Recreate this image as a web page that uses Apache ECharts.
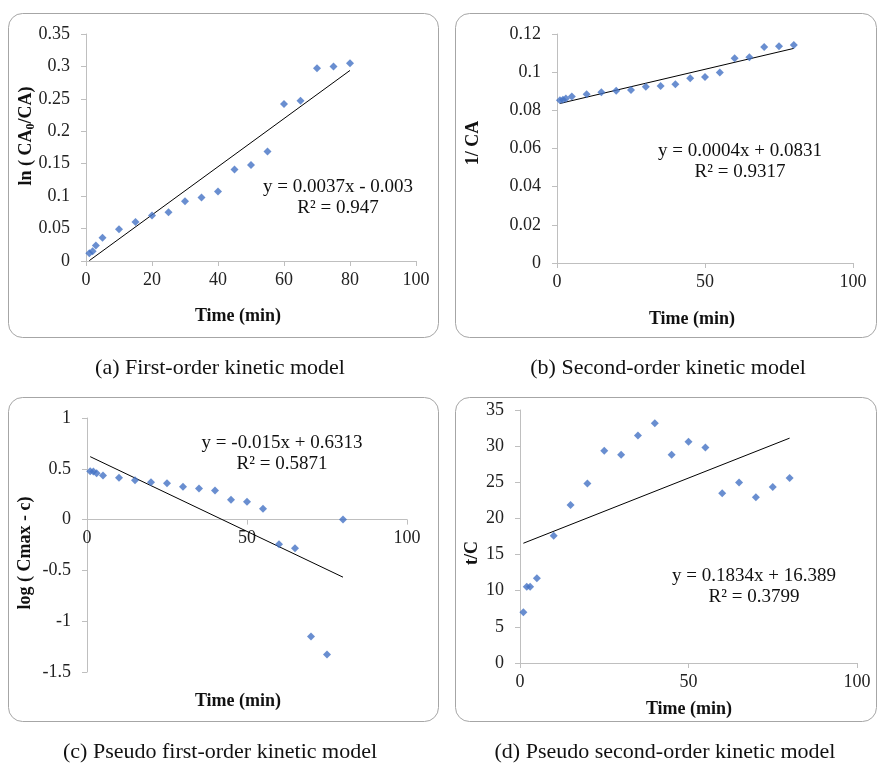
<!DOCTYPE html>
<html>
<head>
<meta charset="utf-8">
<script src="https://cdn.jsdelivr.net/npm/echarts@6/dist/echarts.min.js"></script>
<style>
  html, body { margin: 0; padding: 0; background: #fff; }
  #chart { width: 877px; height: 765px; }
</style>
</head>
<body>
<div id="chart"></div>
<script>
// sampling times (min), shared by all four panels
const time = [1, 2, 3, 5, 10, 15, 20, 25, 30, 35, 40, 45, 50, 55, 60, 65, 70, 75, 80]

// (a) ln(CA0/CA)
const lnRatio = [0.012, 0.015, 0.024, 0.036, 0.049, 0.060, 0.070, 0.075, 0.092, 0.098, 0.107, 0.141, 0.148, 0.169, 0.242, 0.247, 0.297, 0.300, 0.305]
// (b) 1/CA
const invCA = [0.0853, 0.0855, 0.0862, 0.0872, 0.0884, 0.0895, 0.0903, 0.0907, 0.0923, 0.0928, 0.0937, 0.0968, 0.0975, 0.0998, 0.1073, 0.1078, 0.1132, 0.1136, 0.1143]
// (c) log(Cmax - c)
const logCmax = [0.476, 0.473, 0.457, 0.434, 0.411, 0.388, 0.368, 0.359, 0.323, 0.306, 0.287, 0.195, 0.175, 0.107, -0.243, -0.283, -1.15, -1.327, 0.0]
// (d) t/C
const tOverC = [7.03, 10.54, 10.54, 11.74, 17.61, 21.87, 24.83, 29.36, 28.80, 31.48, 33.15, 28.80, 30.61, 29.82, 23.49, 24.97, 22.93, 24.36, 25.61]

const captions = [
  '(a) First-order kinetic model',
  '(b) Second-order kinetic model',
  '(c) Pseudo first-order kinetic model',
  '(d) Pseudo second-order kinetic model'
]
const equations = [
  'y = 0.0037x - 0.003\nR² = 0.947',
  'y = 0.0004x + 0.0831\nR² = 0.9317',
  'y = -0.015x + 0.6313\nR² = 0.5871',
  'y = 0.1834x + 16.389\nR² = 0.3799'
]
const yNames = ['{t|ln ( CA}{s|0}{t|/CA)}', '{t|1/ CA}', '{t|log ( Cmax - c)}', '{t|t/C}']
const yRanges = [[0, 0.35, 0.05], [0, 0.12, 0.02], [-1.5, 1, 0.5], [0, 35, 5]]
const xIntervals = [20, 50, 50, 50]

const FONT = "'Liberation Serif', 'Times New Roman', serif"
const AXIS = '#bfbfbf'
const BLUE = '#4472c4'

// least-squares line through a panel's points
function linFit(xs, ys) {
  const n = xs.length
  const mx = xs.reduce((a, b) => a + b, 0) / n
  const my = ys.reduce((a, b) => a + b, 0) / n
  let sxy = 0, sxx = 0
  for (let i = 0; i < n; i++) { sxy += (xs[i] - mx) * (ys[i] - my); sxx += (xs[i] - mx) ** 2 }
  const k = sxy / sxx
  return { k, b: my - k * mx }
}

// layout of each panel: frame box, plot grid, text anchors
const panels = [
  { box: [8, 13, 430, 324], grid: [86, 34, 330, 227], cap: [220, 368], eq: [338, 198], yName: [26, 136], xName: [238, 316] },
  { box: [455, 13, 421, 324], grid: [557, 34, 296, 229], cap: [668, 368], eq: [740, 162], yName: [473, 143], xName: [692, 319] },
  { box: [8, 397, 430, 324], grid: [87, 418, 320, 254], cap: [220, 752], eq: [282, 454], yName: [25, 553], xName: [238, 701] },
  { box: [455, 397, 421, 324], grid: [520, 410, 337, 253], cap: [665, 752], eq: [754, 587], yName: [472, 553], xName: [689, 709] }
]
const seriesY = [lnRatio, invCA, logCmax, tOverC]

const grid = [], xAxis = [], yAxis = [], series = [], graphic = []

panels.forEach((p, i) => {
  grid.push({ left: p.grid[0], top: p.grid[1], width: p.grid[2], height: p.grid[3], containLabel: false, outerBoundsMode: 'none' })
  const axisCommon = {
    gridIndex: i, type: 'value',
    axisLine: { show: true, onZero: false, lineStyle: { color: AXIS, width: 1 } },
    axisTick: { show: true, length: 5, lineStyle: { color: AXIS } },
    splitLine: { show: false },
    axisLabel: { color: '#222', fontFamily: FONT, fontSize: 18 }
  }
  const [ymin, ymax, ystep] = yRanges[i]
  // x axis sits on y = 0 (matters only for panel c, where y goes negative)
  const zeroOffset = ymin < 0 ? -p.grid[3] * (0 - ymin) / (ymax - ymin) : 0
  xAxis.push({ ...axisCommon, min: 0, max: 100, interval: xIntervals[i], offset: zeroOffset,
    axisLabel: { ...axisCommon.axisLabel, margin: 10 } })
  yAxis.push({ ...axisCommon, min: ymin, max: ymax, interval: ystep,
    axisLabel: { ...axisCommon.axisLabel, margin: 16 } })

  const ys = seriesY[i]
  const f = linFit(time, ys)
  const x0 = time[0], x1 = time[time.length - 1]
  series.push({
    type: 'scatter', xAxisIndex: i, yAxisIndex: i, symbol: 'diamond', symbolSize: 8,
    itemStyle: { color: BLUE }, data: time.map((t, j) => [t, ys[j]]), z: 3
  })
  series.push({
    type: 'line', xAxisIndex: i, yAxisIndex: i, symbol: 'none', silent: true,
    lineStyle: { color: '#000', width: 1 }, data: [[x0, f.k * x0 + f.b], [x1, f.k * x1 + f.b]], z: 2
  })

  graphic.push({ type: 'rect', shape: { x: p.box[0] + 0.5, y: p.box[1] + 0.5, width: p.box[2], height: p.box[3], r: 14 },
    style: { fill: 'none', stroke: '#a6a6a6', lineWidth: 1 }, z: 0 })
  graphic.push({ type: 'text', x: p.cap[0], y: p.cap[1],
    style: { text: captions[i], font: `22px ${FONT}`, fill: '#111', align: 'center', verticalAlign: 'middle' } })
  graphic.push({ type: 'text', x: p.eq[0], y: p.eq[1],
    style: { text: equations[i], font: `19px ${FONT}`, lineHeight: 21, fill: '#111', align: 'center', verticalAlign: 'middle' } })
  graphic.push({ type: 'text', x: p.xName[0], y: p.xName[1],
    style: { text: 'Time (min)', font: `bold 18px ${FONT}`, fill: '#111', align: 'center', verticalAlign: 'middle' } })
  graphic.push({ type: 'text', x: p.yName[0], y: p.yName[1], rotation: Math.PI / 2,
    style: { text: yNames[i], align: 'center', verticalAlign: 'middle',
      rich: {
        t: { fontFamily: FONT, fontWeight: 'bold', fontSize: 18, lineHeight: 22, fill: '#111' },
        s: { fontFamily: FONT, fontWeight: 'bold', fontSize: 12, lineHeight: 12, verticalAlign: 'bottom', fill: '#111' }
      } } })
})

const chart = echarts.init(document.getElementById('chart'), null, { renderer: 'canvas' })
chart.setOption({
  backgroundColor: '#fff',
  animation: false,
  grid, xAxis, yAxis, series, graphic
})
</script>
</body>
</html>
